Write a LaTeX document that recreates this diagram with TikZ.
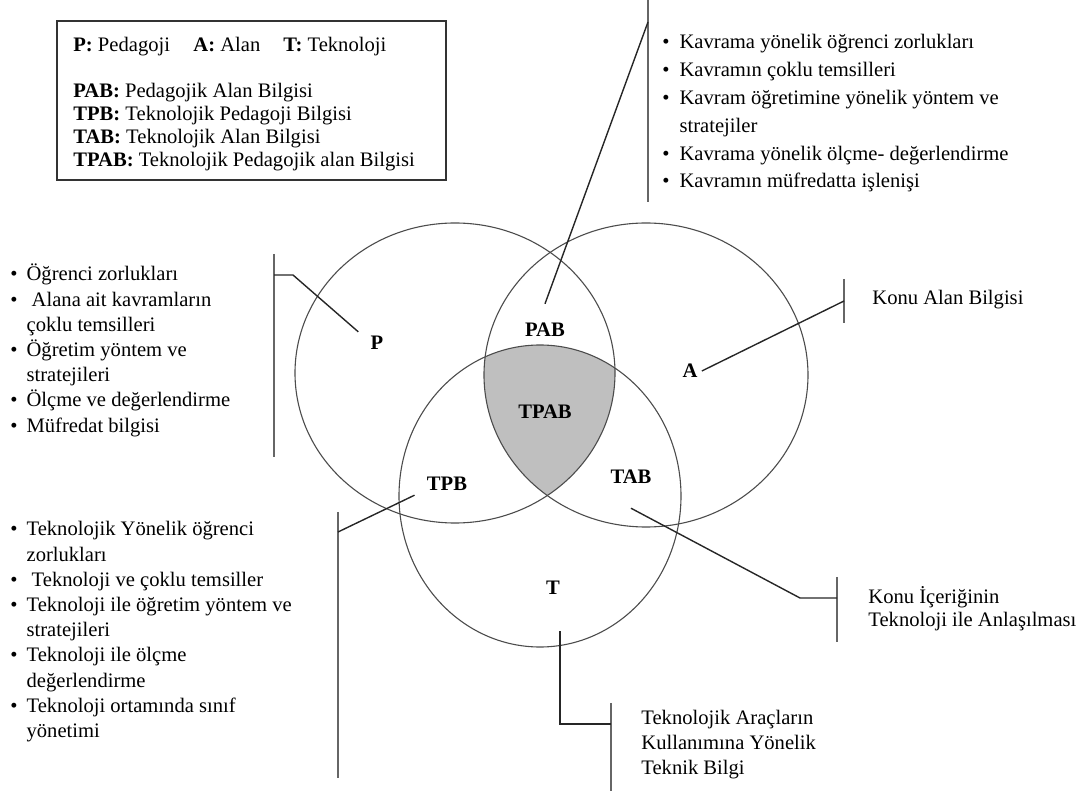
\documentclass[tikz,border=0pt]{standalone}
\usepackage{fontspec}
\setmainfont{Liberation Serif}
\usepackage{tikz}
\usetikzlibrary{positioning}

\newcommand{\bul}{\textbullet}

\begin{document}
\begin{tikzpicture}[x=0.5pt,y=-0.5pt,
  every node/.style={font=\fontsize{10.3}{12.6}\selectfont},
  lbl/.style={font=\fontsize{10.3}{12.6}\selectfont\bfseries, inner sep=2pt},
  ring/.style={draw=black!70, line width=0.55pt},
  bar/.style={draw=black!60, line width=0.9pt},
  link/.style={draw=black!85, line width=0.7pt},
  txt/.style={inner sep=0pt, anchor=base west}]

\useasboundingbox (0,0) rectangle (1084,791);

\coordinate (Pc) at (455,373);
\coordinate (Ac) at (646,375);
\coordinate (Tc) at (540,496);

% shaded TPAB part
\begin{scope}
\clip (Pc) ellipse [x radius=160, y radius=150];
\clip (Ac) ellipse [x radius=162, y radius=152];
\fill[gray!50] (Tc) ellipse [x radius=141, y radius=151];
\end{scope}

\draw[ring] (Pc) ellipse [x radius=160, y radius=150];
\draw[ring] (Ac) ellipse [x radius=162, y radius=152];
\draw[ring] (Tc) ellipse [x radius=141, y radius=151];

\node[lbl] (plbl) at (377,343) {P};
\node[lbl] (albl) at (690,371) {A};
\node[lbl] (tlbl) at (553,588) {T};
\node[lbl] (pab) at (545,330) {PAB};
\node[lbl] (tpab) at (545,412) {TPAB};
\node[lbl] (tpb) at (447,484) {TPB};
\node[lbl] (tab) at (631,477) {TAB};

% legend
\draw[line width=0.8pt, black!80] (57,21) rectangle (446,180);
\node[txt, font=\fontsize{10.3}{11.5}\selectfont] (legend) at (73,52) {\begin{tabular}[t]{@{}l@{}}
\makebox[60pt][l]{\textbf{P:} Pedagoji}\makebox[45pt][l]{\textbf{A:} Alan}\textbf{T:} Teknoloji\\
\\
\textbf{PAB:} Pedagojik Alan Bilgisi\\
\textbf{TPB:} Teknolojik Pedagoji Bilgisi\\
\textbf{TAB:} Teknolojik Alan Bilgisi\\
\textbf{TPAB:} Teknolojik Pedagojik alan Bilgisi
\end{tabular}};

% bracket ends
\coordinate (pbar1) at (274,254);
\coordinate (pbar2) at (274,457);
\coordinate (pk) at (293,275);
\coordinate (pb) at (274,275);

\coordinate (pabbar1) at (648,0);
\coordinate (pabbar2) at (648,202);
\coordinate (pabb) at (648,22);

\coordinate (abar1) at (844,279);
\coordinate (abar2) at (844,323);
\coordinate (ab) at (844,301);

\coordinate (tpbbar1) at (338,512);
\coordinate (tpbbar2) at (338,778);
\coordinate (tpbb) at (338,532);

\coordinate (tabbar1) at (837,577);
\coordinate (tabbar2) at (837,642);
\coordinate (tabk) at (800,598);
\coordinate (tabb) at (837,598);

\coordinate (tbar1) at (611,703);
\coordinate (tbar2) at (611,791);
\coordinate (tk) at (560,724);
\coordinate (tb) at (611,724);

\foreach \a/\b in {pbar1/pbar2,pabbar1/pabbar2,abar1/abar2,tpbbar1/tpbbar2,tabbar1/tabbar2,tbar1/tbar2}
    \draw[bar] (\a) -- (\b);

\draw[link] ([xshift=-4pt]plbl.north west) -- (pk) -- (pb);
\draw[link] ([yshift=7.5pt]pab.north) -- (pabb);
\draw[link] (albl.east) -- (ab);
\draw[link] ([xshift=-4pt]tpb.south west) -- (tpbb);
\draw[link] ([yshift=-10pt]tab.south) -- (tabk) -- (tabb);
\draw[link] ([xshift=3.5pt,yshift=-16pt]tlbl.south) -- (tk) -- (tb);

% lists
\node[txt] (plist) at (10,281) {\begin{tabular}[t]{@{}l@{\hspace{4.5pt}}l@{}}
\bul & Öğrenci zorlukları\\
\bul & \ Alana ait kavramların\\
 & çoklu temsilleri\\
\bul & Öğretim yöntem ve\\
 & stratejileri\\
\bul & Ölçme ve değerlendirme\\
\bul & Müfredat bilgisi
\end{tabular}};

\node[txt, font=\fontsize{10.3}{13.9}\selectfont] (pablist) at (662,49) {\begin{tabular}[t]{@{}l@{\hspace{5pt}}l@{}}
\bul & Kavrama yönelik öğrenci zorlukları\\
\bul & Kavramın çoklu temsilleri\\
\bul & Kavram öğretimine yönelik yöntem ve\\
 & stratejiler\\
\bul & Kavrama yönelik ölçme- değerlendirme\\
\bul & Kavramın müfredatta işlenişi
\end{tabular}};

\node[txt] (tpblist) at (10,536) {\begin{tabular}[t]{@{}l@{\hspace{4.5pt}}l@{}}
\bul & Teknolojik Yönelik öğrenci\\
 & zorlukları\\
\bul & \ Teknoloji ve çoklu temsiller\\
\bul & Teknoloji ile öğretim yöntem ve\\
 & stratejileri\\
\bul & Teknoloji ile ölçme\\
 & değerlendirme\\
\bul & Teknoloji ortamında sınıf\\
 & yönetimi
\end{tabular}};

\node[txt] (atxt) at (872,305) {Konu Alan Bilgisi};

\node[txt, font=\fontsize{10.3}{11.5}\selectfont] (tabtxt) at (868,604) {\begin{tabular}[t]{@{}l@{}}
Konu İçeriğinin\\
Teknoloji ile Anlaşılması
\end{tabular}};

\node[txt, font=\fontsize{10.3}{12.4}\selectfont] (ttxt) at (641,725) {\begin{tabular}[t]{@{}l@{}}
Teknolojik Araçların\\
Kullanımına Yönelik\\
Teknik Bilgi
\end{tabular}};

\end{tikzpicture}
\end{document}
